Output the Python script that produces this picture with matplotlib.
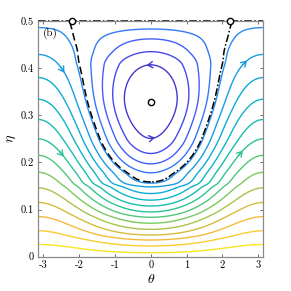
import numpy as np
import matplotlib
matplotlib.use("Agg")
import matplotlib.pyplot as plt
from matplotlib.colors import LinearSegmentedColormap, Normalize

plt.rcParams['mathtext.fontset'] = 'cm'
plt.rcParams['axes.unicode_minus'] = False

# ---- data ----
# contour level index (0 = innermost closed orbit, 16 = lowest open streamline)
levels = np.arange(0, 17)
# heights where each streamline crosses theta = 0 (bottom -> top), with level values
eta_theta0 = [0.0, 0.0085, 0.0227, 0.0354, 0.046, 0.058, 0.071, 0.0836, 0.095, 0.1075,
              0.120, 0.134, 0.148, 0.156, 0.178, 0.197, 0.219, 0.251, 0.329,
              0.407, 0.435, 0.462, 0.483, 0.5]
psi_theta0 = [16.8, 16, 15, 14, 13, 12, 11, 10, 9, 8, 7, 6, 5, 4, 3, 2, 1, 0, -1.05,
              0, 1, 2, 3, 3.83]
# heights where each streamline crosses theta = +-pi
eta_thetapi = [0.0, 0.026, 0.055, 0.085, 0.115, 0.146, 0.179, 0.215, 0.25, 0.291,
               0.334, 0.38, 0.429, 0.486, 0.5]
psi_thetapi = [16.8, 16, 15, 14, 13, 12, 11, 10, 9, 8, 7, 6, 5, 4, 3.83]
psi_separatrix = 3.83
saddle_theta = [-2.2, 2.2]
centre = (0.0, 0.329)
# arrow positions (theta, level, direction)
arrows = [(-2.53, 5, 1), (-2.55, 9, 1), (2.57, 5, 1), (2.45, 9, 1),
          (0.0, 0, -1), (0.0, 0, 1)]
xticks = [-3, -2, -1, 0, 1, 2, 3]
yticks = [0, 0.1, 0.2, 0.3, 0.4, 0.5]


def pchip(x, y, xq):
    x = np.asarray(x, float); y = np.asarray(y, float)
    h = np.diff(x); d = np.diff(y) / h
    n = len(x); m = np.zeros(n)
    for k in range(1, n - 1):
        if d[k - 1] * d[k] <= 0:
            m[k] = 0.0
        else:
            w1 = 2 * h[k] + h[k - 1]; w2 = h[k] + 2 * h[k - 1]
            m[k] = (w1 + w2) / (w1 / d[k - 1] + w2 / d[k])

    def endslope(h0, h1, d0, d1):
        s = ((2 * h0 + h1) * d0 - h0 * d1) / (h0 + h1)
        if np.sign(s) != np.sign(d0):
            s = 0.0
        elif np.sign(d0) != np.sign(d1) and abs(s) > abs(3 * d0):
            s = 3 * d0
        return s
    m[0] = endslope(h[0], h[1], d[0], d[1])
    m[-1] = endslope(h[-1], h[-2], d[-1], d[-2])
    xq = np.asarray(xq, float)
    i = np.clip(np.searchsorted(x, xq) - 1, 0, n - 2)
    t = (xq - x[i]) / h[i]
    h00 = 2 * t**3 - 3 * t**2 + 1; h10 = t**3 - 2 * t**2 + t
    h01 = -2 * t**3 + 3 * t**2; h11 = t**3 - t**2
    return h00 * y[i] + h10 * h[i] * m[i] + h01 * y[i + 1] + h11 * h[i] * m[i + 1]


def field(th, et):
    S = pchip(eta_theta0, psi_theta0, et)
    D = pchip(eta_thetapi, psi_thetapi, et)
    return 0.5 * (S + D) + 0.5 * (S - D) * np.cos(th)


parula_stops = [
    (0.00, (0.2422, 0.1504, 0.6603)),
    (0.10, (0.2780, 0.2650, 0.9250)),
    (0.18, (0.2600, 0.3900, 0.9900)),
    (0.28, (0.1500, 0.5500, 0.9400)),
    (0.38, (0.0500, 0.6600, 0.8600)),
    (0.48, (0.0500, 0.7300, 0.7300)),
    (0.58, (0.2000, 0.7700, 0.5600)),
    (0.68, (0.5000, 0.7900, 0.3600)),
    (0.78, (0.8000, 0.7500, 0.2300)),
    (0.86, (0.9900, 0.7300, 0.2500)),
    (0.93, (0.9700, 0.8500, 0.1600)),
    (1.00, (0.9769, 0.9839, 0.0805)),
]
cmap = LinearSegmentedColormap.from_list('parula', parula_stops)

th = np.linspace(-np.pi, np.pi, 601)
et = np.linspace(0, 0.5, 501)
TH, ET = np.meshgrid(th, et)
PSI = field(TH, ET)
vmin, vmax = PSI.min(), PSI.max()
norm = Normalize(vmin, vmax)

fig = plt.figure(figsize=(2.91, 2.91), dpi=100)
ax = fig.add_axes([0.1316, 0.1179, 0.7732, 0.8099])

ax.contour(TH, ET, PSI, levels=levels, cmap=cmap, norm=norm, linewidths=1.0)

# separatrix: left branch dashed, right branch dash-dot
et_s = np.linspace(0, 0.4995, 500)
thL = np.linspace(-np.pi, 0, 400); thR = np.linspace(0, np.pi, 400)
TL, EL = np.meshgrid(thL, et_s); TR, ER = np.meshgrid(thR, et_s)
csL = ax.contour(TL, EL, field(TL, EL), levels=[psi_separatrix], colors='k',
                 linewidths=1.1)
csL.set_linestyle((0, (5, 2.5)))
csR = ax.contour(TR, ER, field(TR, ER), levels=[psi_separatrix], colors='k',
                 linewidths=1.1)
csR.set_linestyle((0, (5, 1.5, 1, 1.5)))
ax.plot([-np.pi, np.pi], [0.5, 0.5], color='k', lw=1.1,
        linestyle=(0, (5, 1.5, 1, 1.5)), clip_on=False)

# stagnation points
ax.plot(saddle_theta, [0.5, 0.5], 'o', mfc='white', mec='k', ms=4.5, mew=1.0,
        clip_on=False, zorder=5)
ax.plot([centre[0]], [centre[1]], 'o', mfc='white', mec='k', ms=4.5, mew=1.0, zorder=5)


def eta_on_level(t0, lev, lower=True):
    col = field(np.full_like(et, t0), et)
    idx = np.where(np.diff(np.sign(col - lev)) != 0)[0]
    k = idx[0] if lower else idx[-1]
    return et[k] + (lev - col[k]) * (et[k + 1] - et[k]) / (col[k + 1] - col[k])


for t0, lev, sgn in arrows:
    lower = not (t0 == 0.0 and sgn == -1)
    e0 = eta_on_level(t0, lev, lower)
    dt = 0.12 * sgn
    e1 = eta_on_level(t0 + dt, lev, lower)
    c = cmap(norm(lev))
    ax.annotate('', xy=(t0 + dt, e1), xytext=(t0, e0),
                arrowprops=dict(arrowstyle='->,head_length=0.35,head_width=0.22',
                                color=c, lw=1.0, shrinkA=0, shrinkB=0))

ax.set_xlim(-np.pi, np.pi)
ax.set_ylim(0, 0.5)
ax.set_xticks(xticks)
ax.set_yticks(yticks)
ax.set_xticklabels([str(v) for v in xticks], family='cmr10', fontsize=7.5)
ax.set_yticklabels(['0', '0.1', '0.2', '0.3', '0.4', '0.5'], family='cmr10', fontsize=7.5)
ax.tick_params(direction='in', length=2.5, width=0.6, color='#555555',
               top=True, right=True, pad=3)
for s in ax.spines.values():
    s.set_color('#8a8a8a'); s.set_linewidth(0.9)
ax.set_xlabel(r'$\theta$', fontsize=10, labelpad=1)
ax.set_ylabel(r'$\eta$', fontsize=10, labelpad=2)
ax.text(-3.0, 0.474, '(b)', family='cmr10', fontsize=8, va='center', ha='left')

fig.savefig('out.png', dpi=100)
